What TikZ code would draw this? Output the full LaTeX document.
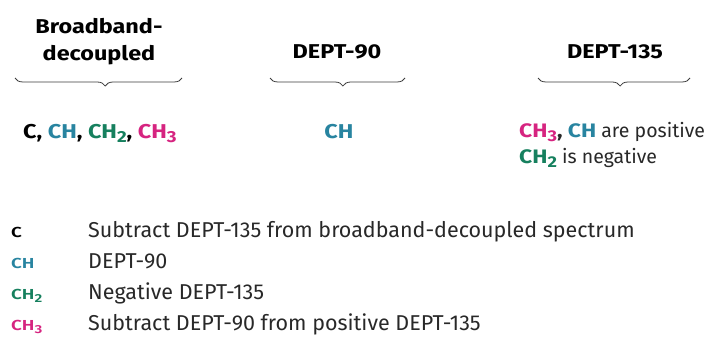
\documentclass[tikz,border=0pt]{standalone}
\usepackage{fontspec}
\setmainfont{Fira Sans}
\newfontfamily\wideboldfont[FakeStretch=1.17]{Fira Sans Bold}
\newfontfamily\keyfont[FakeStretch=1.3]{Fira Sans SemiBold}
\usepackage{tikz}
\usetikzlibrary{
    positioning,
    decorations.pathreplacing
}
\definecolor{CHBlue}{RGB}{40,132,160}
\definecolor{CHGreen}{RGB}{22,128,94}
\definecolor{CHPink}{RGB}{214,36,128}
\definecolor{BraceGray}{RGB}{60,60,60}
\definecolor{TextGray}{RGB}{40,40,40}
\newcommand{\lowsub}[1]{\raisebox{-0.4ex}{\scalebox{0.8}{#1}}}

\begin{document}
\begin{tikzpicture}[
    x=1pt, y=-1pt,
    head/.style={font=\wideboldfont\fontsize{20}{27}\selectfont, align=center, inner sep=0pt, anchor=base},
    grp/.style={font=\fontsize{19.5}{26}\selectfont, align=left, inner sep=0pt, anchor=base west, text=TextGray},
    grpb/.style={font=\wideboldfont\fontsize{20}{27}\selectfont, inner sep=0pt},
    brc/.style={draw=BraceGray, line width=0.8pt, decorate, decoration={brace, mirror, amplitude=8pt, aspect=0.54}},
    key/.style={font=\keyfont\fontsize{14.5}{14.5}\selectfont, anchor=base west, inner sep=0pt},
    desc/.style={font=\fontsize{21.5}{21.5}\selectfont, anchor=base west, inner sep=0pt, text=TextGray},
]
\useasboundingbox (0,0) rectangle (719,337);

% headings (base = last line)
\node[head] (bb) at (99,60) {Broadband-\\decoupled};
\node[head] (d90) at (337,59) {DEPT-90};
\node[head] (d135) at (615,59) {DEPT-135};

% braces
\coordinate (bbL) at (15,78);
\coordinate (bbR) at (182,78);
\coordinate (d90L) at (270,78);
\coordinate (d90R) at (405,78);
\coordinate (d135L) at (538,78);
\coordinate (d135R) at (690,78);
\draw[brc] (bbL) -- (bbR);
\draw[brc] (d90L) -- (d90R);
\draw[brc] (d135L) -- (d135R);

% what each spectrum shows
\node[grpb, anchor=base west] (bbset) at (23,138)
    {C, \textcolor{CHBlue}{CH}, \textcolor{CHGreen}{CH\lowsub{2}}, \textcolor{CHPink}{CH\lowsub{3}}};
\node[grpb, anchor=base] (d90set) at (339,138) {\textcolor{CHBlue}{CH}};
\node[grp] (d135set) at (519,163)
    {{\wideboldfont\textcolor{CHPink}{CH\lowsub{3}}, \textcolor{CHBlue}{CH}} are positive\\
     {\wideboldfont\textcolor{CHGreen}{CH\lowsub{2}}} is negative};

% key
\node[key] (kC) at (11,237) {C};
\node[key, CHBlue] (kCH) at (11,268) {CH};
\node[key, CHGreen] (kCH2) at (11,299) {CH\lowsub{2}};
\node[key, CHPink] (kCH3) at (11,330) {CH\lowsub{3}};
\node[desc] (tC) at (88,237) {Subtract DEPT-135 from broadband-decoupled spectrum};
\node[desc] (tCH) at (88,268) {DEPT-90};
\node[desc] (tCH2) at (88,299) {Negative DEPT-135};
\node[desc] (tCH3) at (88,330) {Subtract DEPT-90 from positive DEPT-135};
\end{tikzpicture}
\end{document}
